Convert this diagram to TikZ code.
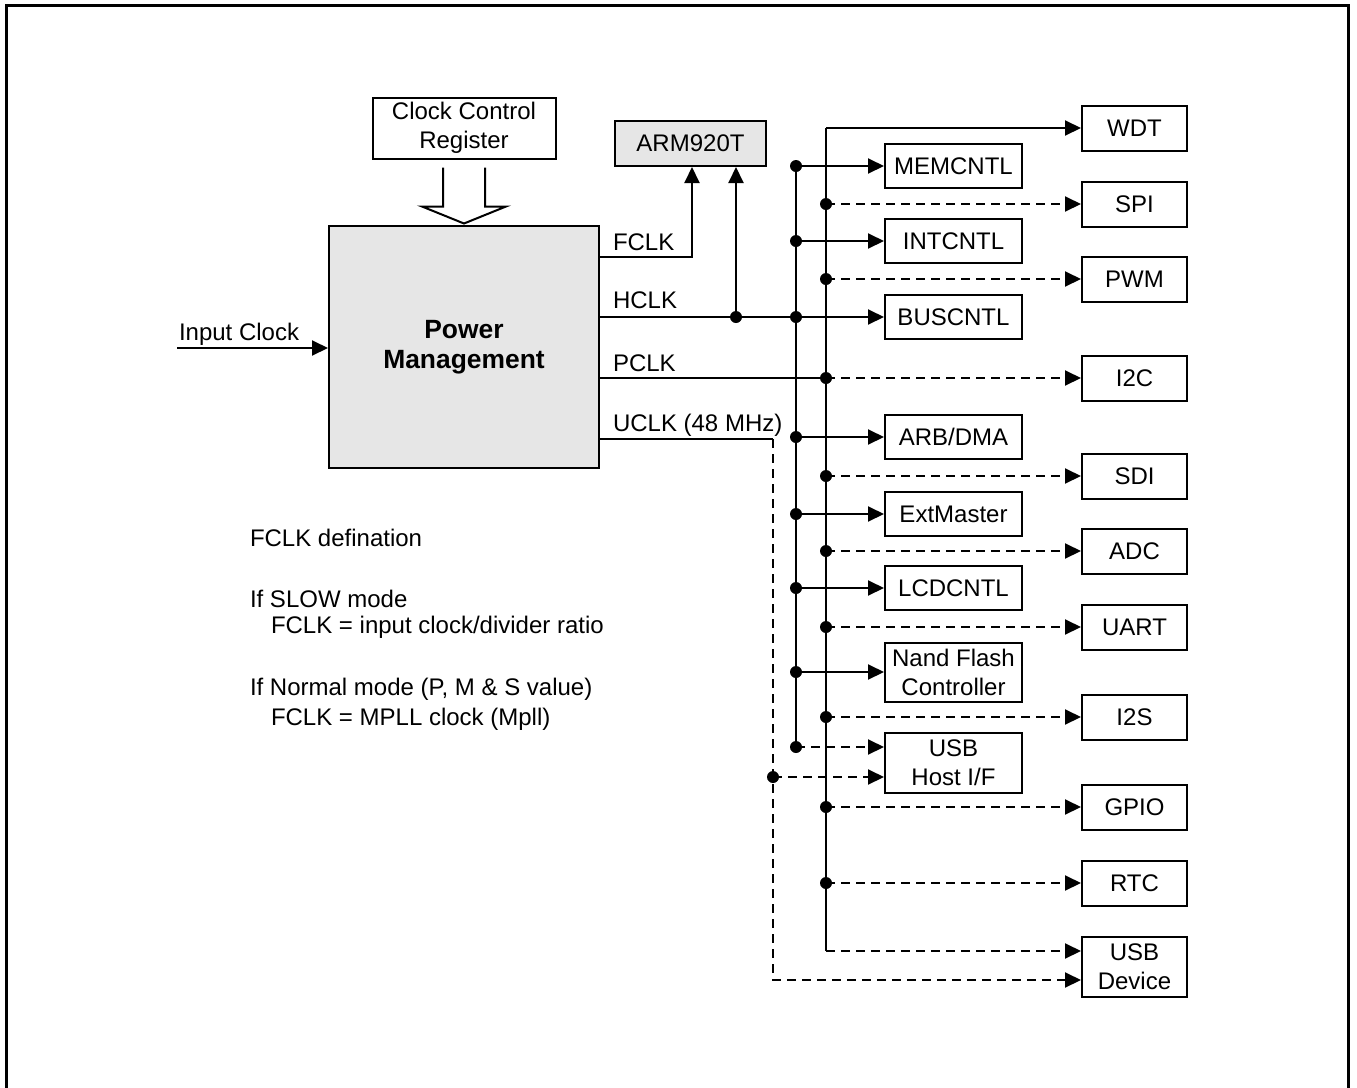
\documentclass[tikz,border=0pt]{standalone}
\usepackage{fontspec}
\setmainfont{Liberation Sans}
\usetikzlibrary{arrows.meta}
\definecolor{panel}{HTML}{E6E6E6}
\tikzset{fig/.style={x=0.5pt,y=-0.5pt,line width=1pt,line join=miter,>={Triangle[length=8pt,width=7.5pt]},
    font=\fontsize{12}{14.5}\selectfont},
  blk/.style={draw,align=center,inner sep=0pt},
  pbox/.style={blk,fill=white,minimum width=52.5pt,minimum height=22.5pt},
  hbox/.style={blk,fill=white,minimum width=68.5pt,minimum height=22pt},
  dsig/.style={->,dash pattern=on 4.5pt off 3pt},
  txt/.style={anchor=base west,inner sep=0pt}}

\begin{document}
\begin{tikzpicture}[fig]
  \useasboundingbox (0,0) rectangle (1357,1088);
  \draw[line width=1.5pt] (6.5,1090) -- (6.5,5.5) -- (1348.5,5.5) -- (1348.5,1090);
  % left side
  \node[blk,minimum width=91.5pt,minimum height=30.5pt] (ccr) at (464,128) {Clock Control\\Register};
  \node[blk,fill=panel,minimum width=135pt,minimum height=121pt,font=\fontsize{13.2}{15}\selectfont\bfseries] (pm) at (464,347) {Power\\Management};
  \node[blk,fill=panel,minimum width=75.5pt,minimum height=22.5pt] (arm) at (690.5,143.5) {ARM920T};
  \draw[shift={(ccr.south)}] (-21,8) -- (-21,47) -- (-42,47) -- (0,64) -- (42,47) -- (21,47) -- (21,8);
  \coordinate (inp) at (177,348);
  \draw[->] (inp) -- (pm.west |- inp);
  \node[txt] (inl) at (178,340) {Input Clock};
  % HCLK side
  \foreach \nm/\lab/\yy in {mem/MEMCNTL/166,int/INTCNTL/241,bus/BUSCNTL/317,arb/{ARB/DMA}/437,ext/ExtMaster/514,lcd/LCDCNTL/588}
    \node[hbox] (\nm) at (953.5,\yy) {\lab};
  \node[hbox,minimum height=29.5pt] (nand) at (953.5,672) {Nand Flash\\Controller};
  \node[hbox,minimum height=30pt] (uhost) at (953.5,763) {USB\\Host I/F};
  % PCLK side
  \foreach \nm/\lab/\yy in {wdt/WDT/128,spi/SPI/204,pwm/PWM/279,iic/I2C/378,sdi/SDI/476,adc/ADC/551,uart/UART/627,iis/I2S/717,gpio/GPIO/807,rtc/RTC/883}
    \node[pbox] (\nm) at (1134.5,\yy) {\lab};
  \node[pbox,minimum height=30pt] (udev) at (1134.5,967) {USB\\Device};
  % clock outputs
  \coordinate (fo) at (599,257);  \coordinate (fup) at (692,257);
  \coordinate (ho) at (599,317);  \coordinate (hup) at (736,317);
  \coordinate (po) at (599,378);
  \coordinate (uo) at (599,439);  \coordinate (ub) at (773,439);
  \coordinate (uhb) at (773,777); \coordinate (ube) at (773,980);
  \coordinate (hb) at (796,166);  \coordinate (hbe) at (796,747);
  \coordinate (pb) at (826,128);  \coordinate (pbe) at (826,951);
  \node[txt] (fl) at (612,250) {FCLK};
  \node[txt] (hl) at (612,308) {HCLK};
  \node[txt] (pl) at (612,371) {PCLK};
  \node[txt] (ul) at (612,431) {UCLK (48 MHz)};
  \draw[->] (fo) -- (fup) -- (arm.south -| fup);
  \draw[->] (hup) -- (arm.south -| hup);
  \draw[->] (ho) -- (bus.west);
  \draw (po) -- (pb |- po);
  \draw (hb) -- (hbe);
  \draw (pb) -- (pbe);
  \draw[->] (pb) -- (wdt.west);
  \foreach \nm in {mem,int,arb,ext,lcd,nand} \draw[->] (hb |- \nm.west) -- (\nm.west);
  \draw[dsig] (hbe) -- (uhost.west |- hbe);
  \foreach \nm in {spi,pwm,iic,sdi,adc,uart,iis,gpio,rtc} \draw[dsig] (pb |- \nm.west) -- (\nm.west);
  \draw[dsig] (pbe) -- (udev.west |- pbe);
  \draw (uo) -- (ub);
  \draw[dsig] (ub) -- (ube) -- (udev.west |- ube);
  \draw[dsig] (uhb) -- (uhost.west |- uhb);
  % junction dots
  \foreach \p in {hup,hbe,uhb,pb |- po} \fill (\p) circle[radius=3pt];
  \foreach \nm in {mem,int,bus,arb,ext,lcd,nand} \fill (hb |- \nm.west) circle[radius=3pt];
  \foreach \nm in {spi,pwm,sdi,adc,uart,iis,gpio,rtc} \fill (pb |- \nm.west) circle[radius=3pt];
  % notes
  \node[txt] (n1) at (249,546) {FCLK defination};
  \node[txt] (n2) at (249,607) {If SLOW mode};
  \node[txt] (n3) at (270,633) {FCLK = input clock/divider ratio};
  \node[txt] (n4) at (249,695) {If Normal mode (P, M \& S value)};
  \node[txt] (n5) at (270,725) {FCLK = MPLL clock (Mpll)};
\end{tikzpicture}
\end{document}
